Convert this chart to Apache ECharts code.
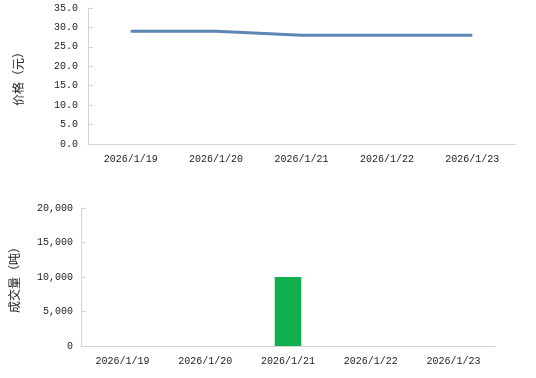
<!DOCTYPE html>
<html><head><meta charset="utf-8">
<script src="https://cdn.jsdelivr.net/npm/echarts@6/dist/echarts.min.js"></script>
<style>html,body{margin:0;padding:0;background:#fff}#c{width:536px;height:378px}</style>
</head><body><div id="c"></div>
<script>
const categories = ['2026/1/19','2026/1/20','2026/1/21','2026/1/22','2026/1/23'];
const priceValues = [29.0, 29.0, 28.0, 28.0, 28.0];
const volumeValues = [0, 0, 10000, 0, 0];
const priceTicks = {min: 0, max: 35, interval: 5};
const volumeTicks = {min: 0, max: 20000, interval: 5000};

const chart = echarts.init(document.getElementById('c'), null, {renderer: 'canvas'});
const font = 'Liberation Mono';
const axisCol = '#d4d4d4';
const txt = '#222';
function xAx(gi){
  return {type:'category', gridIndex:gi, data:categories, boundaryGap:true,
    axisLine:{lineStyle:{color:axisCol}}, axisTick:{inside:true,length:6,lineStyle:{color:axisCol}},
    axisLabel:{color:txt, fontFamily:font, fontSize:10, margin:10}, splitLine:{show:false}};
}
const option = {
  animation:false,
  backgroundColor:'#fff',
  grid:[{left:88,right:21,top:8,height:136},{left:80,right:41,top:208,height:138}],
  xAxis:[xAx(0), xAx(1)],
  yAxis:[
    {type:'value', gridIndex:0, min:priceTicks.min, max:priceTicks.max, interval:priceTicks.interval,
     name:'价格（元）', nameLocation:'middle', nameRotate:90, nameGap:64,
     nameTextStyle:{color:txt, fontFamily:'Noto Sans CJK SC', fontSize:12},
     axisLine:{show:true,lineStyle:{color:axisCol}}, axisTick:{show:true,inside:true,length:5,lineStyle:{color:axisCol}},
     axisLabel:{color:txt, fontFamily:font, fontSize:10, margin:10, formatter:v=>v.toFixed(1)}, splitLine:{show:false}},
    {type:'value', gridIndex:1, min:volumeTicks.min, max:volumeTicks.max, interval:volumeTicks.interval,
     name:'成交量（吨）', nameLocation:'middle', nameRotate:90, nameGap:61,
     nameTextStyle:{color:txt, fontFamily:'Noto Sans CJK SC', fontSize:12},
     axisLine:{show:true,lineStyle:{color:axisCol}}, axisTick:{show:true,inside:true,length:5,lineStyle:{color:axisCol}},
     axisLabel:{color:txt, fontFamily:font, fontSize:10, margin:8, formatter:v=>v.toLocaleString('en-US')}, splitLine:{show:false}}
  ],
  series:[
    {type:'line', xAxisIndex:0, yAxisIndex:0, data:priceValues, showSymbol:false, symbol:'none',
     lineStyle:{color:'#5b87b5', width:3}, itemStyle:{color:'#5b87b5'}},
    {type:'bar', xAxisIndex:1, yAxisIndex:1, data:volumeValues, barWidth:'32%', itemStyle:{color:'#10b050'}}
  ]
};
chart.setOption(option);
</script></body></html>
